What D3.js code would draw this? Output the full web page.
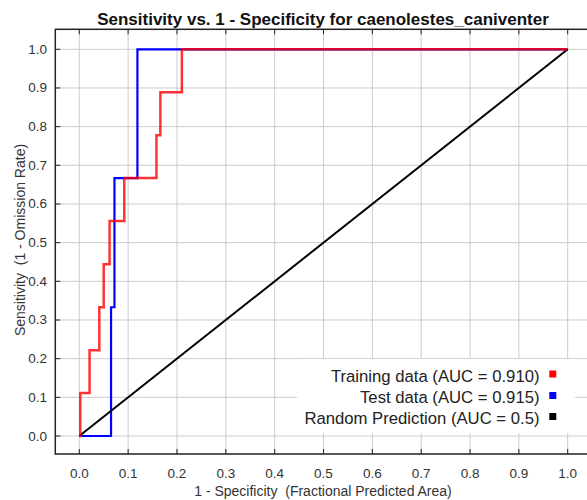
<!DOCTYPE html>
<html>
<head>
<meta charset="utf-8">
<script src="https://cdn.jsdelivr.net/npm/d3@7"></script>
<style>
  body { margin: 0; background: #fff; }
  text { font-family: "Liberation Sans", Arial, sans-serif; }
</style>
</head>
<body>
<div id="chart"></div>
<script>
// ROC data (step corners)
const trainX = [0, 0.002, 0.021, 0.041, 0.050, 0.062, 0.092, 0.158, 0.166, 0.210, 1.0];
const trainY = [0, 0.111, 0.222, 0.333, 0.444, 0.556, 0.667, 0.778, 0.889, 1.0, 1.0];
const testX = [0, 0.065, 0.072, 0.119, 1.0];
const testY = [0, 0.333, 0.667, 1.0, 1.0];
const randomX = [0, 1];
const randomY = [0, 1];

const tickValues = [0, 0.1, 0.2, 0.3, 0.4, 0.5, 0.6, 0.7, 0.8, 0.9, 1.0];
const legendLabels = ['Training data (AUC = 0.910)', 'Test data (AUC = 0.915)', 'Random Prediction (AUC = 0.5)'];
const legendColors = ['#ff0000', '#0000ff', '#000000'];

const width = 587, height = 500;
const frame = {left: 55.3, top: 29.3, right: 592, bottom: 454};

const x = d3.scaleLinear().domain([0, 1]).range([79.3, 567.7]);
const y = d3.scaleLinear().domain([0, 1]).range([436, 49.3]);

const svg = d3.select('div#chart')
    .append('svg')
    .attr('width', width)
    .attr('height', height);

// grid
svg.append('g').selectAll('line')
    .data(tickValues)
    .enter().append('line')
    .attr('x1', d => x(d)).attr('x2', d => x(d))
    .attr('y1', frame.top).attr('y2', frame.bottom)
    .attr('stroke', '#cccccc').attr('stroke-width', 1);
svg.append('g').selectAll('line')
    .data(tickValues)
    .enter().append('line')
    .attr('y1', d => y(d)).attr('y2', d => y(d))
    .attr('x1', frame.left).attr('x2', frame.right)
    .attr('stroke', '#cccccc').attr('stroke-width', 1);

// frame
svg.append('rect')
    .attr('x', frame.left).attr('y', frame.top)
    .attr('width', frame.right - frame.left)
    .attr('height', frame.bottom - frame.top)
    .attr('fill', 'none')
    .attr('stroke', '#222').attr('stroke-width', 1.5);

// inward ticks
const tk = 5;
svg.append('g').selectAll('line').data(tickValues).enter().append('line')
    .attr('x1', d => x(d)).attr('x2', d => x(d))
    .attr('y1', frame.top).attr('y2', frame.top + tk)
    .attr('stroke', '#222');
svg.append('g').selectAll('line').data(tickValues).enter().append('line')
    .attr('x1', d => x(d)).attr('x2', d => x(d))
    .attr('y1', frame.bottom).attr('y2', frame.bottom - tk)
    .attr('stroke', '#222');
svg.append('g').selectAll('line').data(tickValues).enter().append('line')
    .attr('y1', d => y(d)).attr('y2', d => y(d))
    .attr('x1', frame.left).attr('x2', frame.left + tk)
    .attr('stroke', '#222');

// tick labels
svg.append('g').selectAll('text').data(tickValues).enter().append('text')
    .text(d => d.toFixed(1))
    .attr('x', d => x(d))
    .attr('y', 477.5)
    .attr('text-anchor', 'middle')
    .style('font-size', '13.5px')
    .style('fill', '#333');
svg.append('g').selectAll('text').data(tickValues).enter().append('text')
    .text(d => d.toFixed(1))
    .attr('x', 47)
    .attr('y', d => y(d) + 4.5)
    .attr('text-anchor', 'end')
    .style('font-size', '13.5px')
    .style('fill', '#333');

// axis titles
svg.append('text')
    .text('1 - Specificity  (Fractional Predicted Area)')
    .attr('x', 323).attr('y', 495.5)
    .attr('text-anchor', 'middle')
    .attr('xml:space', 'preserve')
    .style('font-size', '14px')
    .style('fill', '#333');
svg.append('text')
    .text('Sensitivity  (1 - Omission Rate)')
    .attr('transform', 'translate(25,240) rotate(-90)')
    .attr('text-anchor', 'middle')
    .attr('xml:space', 'preserve')
    .style('font-size', '14px')
    .style('fill', '#333');

// title
svg.append('text')
    .text('Sensitivity vs. 1 - Specificity for caenolestes_caniventer')
    .attr('x', 323).attr('y', 25)
    .attr('text-anchor', 'middle')
    .style('font-size', '17px')
    .style('font-weight', 'bold')
    .style('fill', '#111');

// curves
const pts = (xs, ys) => xs.map((v, i) => [v, ys[i]]);
const step = d3.line().x(d => x(d[0])).y(d => y(d[1])).curve(d3.curveStepAfter);

svg.append('path')
    .datum(pts(testX, testY))
    .attr('d', step)
    .attr('fill', 'none')
    .attr('stroke', legendColors[1])
    .attr('stroke-width', 2.2);

svg.append('path')
    .datum(pts(randomX, randomY))
    .attr('d', d3.line().x(d => x(d[0])).y(d => y(d[1])))
    .attr('fill', 'none')
    .attr('stroke', legendColors[2])
    .attr('stroke-width', 2);

svg.append('path')
    .datum(pts(trainX, trainY))
    .attr('d', step)
    .attr('fill', 'none')
    .attr('stroke', legendColors[0])
    .attr('stroke-opacity', 0.8)
    .attr('stroke-width', 2.5);

// legend
svg.append('rect')
    .attr('x', 297).attr('y', 359)
    .attr('width', 278).attr('height', 74)
    .attr('fill', '#fff');

const legendBase = [381.5, 403, 424];
svg.append('g').selectAll('text').data(legendLabels).enter().append('text')
    .text(d => d)
    .attr('x', 539.5)
    .attr('y', (d, i) => legendBase[i])
    .attr('text-anchor', 'end')
    .style('font-size', '16.7px')
    .style('fill', '#222');
svg.append('g').selectAll('rect').data(legendColors).enter().append('rect')
    .attr('x', 549.3)
    .attr('y', (d, i) => legendBase[i] - 11)
    .attr('width', 7).attr('height', 7)
    .attr('fill', d => d);
</script>
</body>
</html>
